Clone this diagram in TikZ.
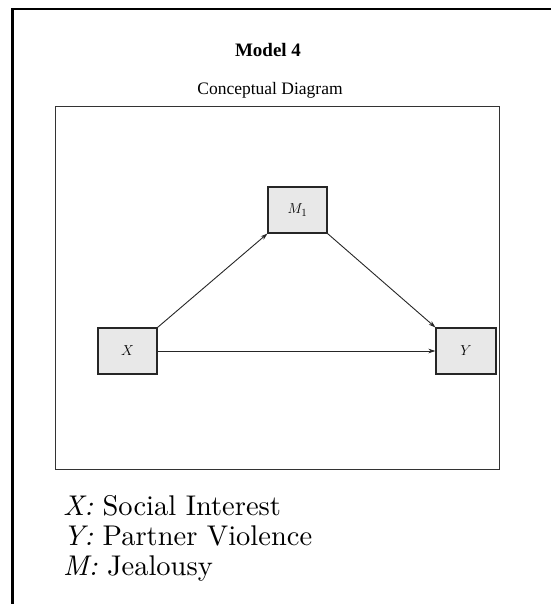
\documentclass[tikz,border=0pt]{standalone}
\usepackage{fontspec}
\newfontfamily\timesf{Liberation Serif}
\newfontfamily\legendf{lmroman10-regular.otf}[ItalicFont=lmroman10-italic.otf]
\usetikzlibrary{arrows.meta}
\tikzset{
  varbox/.style={draw=black!85, line width=1.1pt, fill=black!9, minimum width=59pt, minimum height=46pt, inner sep=0pt, font=\fontsize{15}{17}\selectfont},
  pathline/.style={draw=black!85, line width=0.9pt, -{Stealth[length=7pt,width=4.5pt]}},
  legend/.style={anchor=base west, inner sep=0pt, font=\legendf\fontsize{28.5}{31}\selectfont}
}
\begin{document}
\begin{tikzpicture}[x=1pt,y=-1pt]
\useasboundingbox (0,0) rectangle (550,604);
% outer frame (top and left only)
\draw[line width=2.6pt, line cap=rect] (12.5,604) -- (12.5,9) -- (550,9);
% titles
\node[font=\timesf\bfseries\fontsize{19}{22}\selectfont] (title) at (268,50) {Model 4};
\node[font=\timesf\fontsize{17.5}{20}\selectfont] (sub) at (270,90) {Conceptual Diagram};
% inner box
\draw[draw=black!80, line width=1pt] (55,107) rectangle (499,469);
% variable boxes
\node[varbox] (M) at (297.5,210) {$M_1$};
\node[varbox] (X) at (127.5,351) {$X$};
\node[varbox, minimum width=60pt] (Y) at (466,351) {$Y$};
% paths
\draw[pathline] (X.north east) -- (M.south west);
\draw[pathline] (M.south east) -- (Y.north west);
\draw[pathline] (X.east) -- (Y.west);
% legend
\node[legend] (lx) at (63,515) {\textit{X:} Social Interest};
\node[legend] (ly) at (63,545) {\textit{Y:} Partner Violence};
\node[legend] (lm) at (63,575) {\textit{M:} Jealousy};
\end{tikzpicture}
\end{document}
